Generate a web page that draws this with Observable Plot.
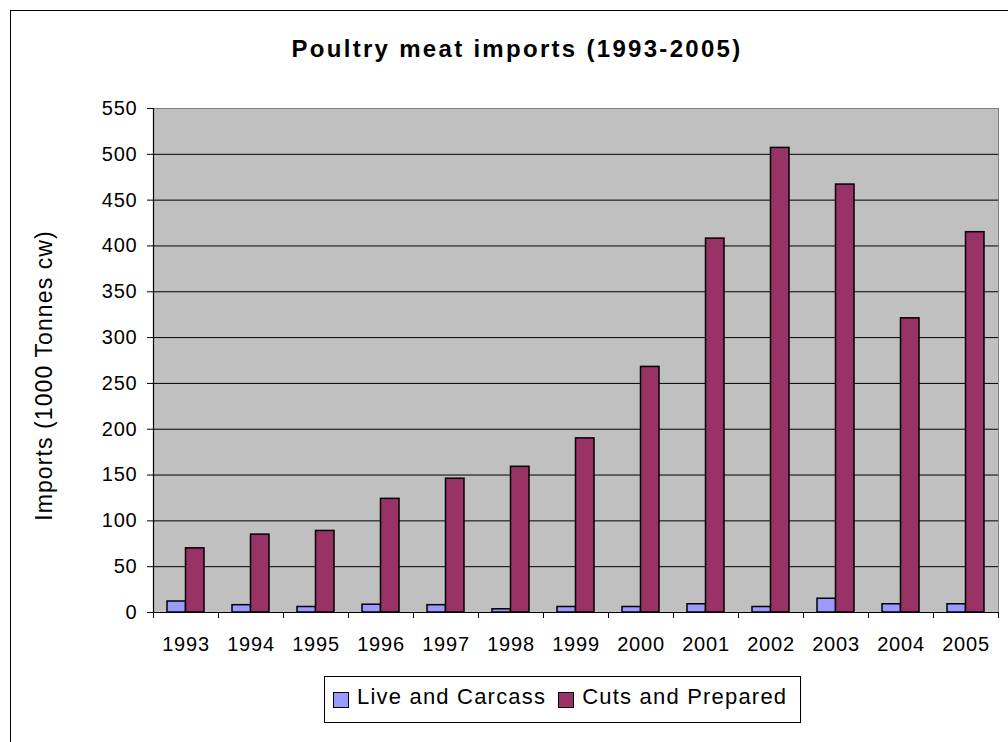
<!DOCTYPE html>
<html>
<head>
<meta charset="utf-8">
<script src="https://cdn.jsdelivr.net/npm/d3@7"></script>
<script src="https://cdn.jsdelivr.net/npm/@observablehq/plot@0.6"></script>
<style>
  body { margin: 0; background: #fff; font-family: "Liberation Sans", Arial, sans-serif; }
  #wrap { position: relative; width: 1008px; height: 742px; overflow: hidden; background: #fff; }
  #border { position: absolute; left: 10px; top: 10px; width: 1100px; height: 800px; border: 1px solid #000; box-sizing: border-box; }
  #title { position: absolute; left: 10px; width: 1014px; top: 33px; text-align: center; font-weight: bold; font-size: 24px; letter-spacing: 2.3px; line-height: 32px; color: #000; }
  #chart { position: absolute; left: 0; top: 80px; }
  #legend { position: absolute; left: 324px; top: 676px; width: 477px; height: 47px; box-sizing: border-box; border: 1px solid #000; background: #fff; display: flex; align-items: center; padding-left: 8px; }
  .item { display: flex; align-items: center; margin-right: 12px; }
  .sw { width: 16px; height: 16px; box-sizing: border-box; border: 1.5px solid #000; margin-right: 8px; position: relative; top: 0px; }
  .lt { font-size: 22px; letter-spacing: 1.2px; position: relative; top: -3px; color: #000; }
  .ylabel { letter-spacing: 1.1px; }
</style>
</head>
<body>
<div id="wrap">
  <div id="border"></div>
  <div id="title">Poultry meat imports (1993-2005)</div>
  <div id="chart"></div>
  <div id="legend"></div>
</div>
<script>
const titleText = "Poultry meat imports (1993-2005)";
const yLabel = "Imports (1000 Tonnes cw)";
const years = ["1993","1994","1995","1996","1997","1998","1999","2000","2001","2002","2003","2004","2005"];
const seriesNames = ["Live and Carcass", "Cuts and Prepared"];
const seriesColors = ["#9999ff", "#993366"];
const liveCarcass = [12, 8, 6, 8.5, 8, 3.5, 6, 6, 9, 6, 15, 9, 9];
const cutsPrepared = [70, 85, 89, 124, 146, 159, 190, 268, 408, 507, 467, 321, 415];
const yTicks = [0, 50, 100, 150, 200, 250, 300, 350, 400, 450, 500, 550];

const liveRows = years.map((y, i) => ({year: y, series: seriesNames[0], value: liveCarcass[i]}));
const cutsRows = years.map((y, i) => ({year: y, series: seriesNames[1], value: cutsPrepared[i]}));

const chart = Plot.plot({
  width: 1008,
  height: 592,
  marginLeft: 153,
  marginRight: 10,
  marginTop: 28,
  marginBottom: 60,
  style: {fontFamily: "'Liberation Sans', Arial, sans-serif", fontSize: "20px", color: "#000", background: "transparent", letterSpacing: "0.8px", overflow: "visible"},
  x: {type: "band", domain: years, paddingInner: 28/65, paddingOuter: 14/65, align: 0.5, label: null},
  y: {domain: [0, 550], label: null},
  marks: [
    Plot.frame({fill: "#c0c0c0", stroke: "#808080"}),
    Plot.ruleY(yTicks.filter(v => v > 0 && v < 550), {stroke: "#000", strokeWidth: 1}),
    Plot.axisY({ticks: yTicks, tickSize: 6, tickPadding: 10, fontSize: 20, label: null, stroke: "#000"}),
    Plot.axisX({tickSize: 6, tickFormat: () => "", dx: -32.5, label: null}),
    Plot.axisX({ticks: [years[years.length - 1]], tickSize: 6, tickFormat: () => "", dx: 32.5, label: null}),
    Plot.axisX({tickSize: 0, tickPadding: 24, fontSize: 20, label: null}),
    Plot.barY(liveRows, {x: "year", y: "value", fill: seriesColors[0], stroke: "#000", strokeWidth: 1.5, insetRight: 18.5}),
    Plot.barY(cutsRows, {x: "year", y: "value", fill: seriesColors[1], stroke: "#000", strokeWidth: 1.5, insetLeft: 18.5}),
    Plot.ruleY([0], {stroke: "#000", strokeWidth: 1.2}),
    Plot.ruleX([years[0]], {dx: -32.5, stroke: "#000", strokeWidth: 1.2}),
    Plot.text([yLabel], {text: d => d, frameAnchor: "left", textAnchor: "middle", rotate: -90, dx: -109, dy: 15, fontSize: 23, className: "ylabel"})
  ]
});
document.getElementById("chart").appendChild(chart);
document.getElementById("title").textContent = titleText;

const legend = document.getElementById("legend");
seriesNames.forEach((name, i) => {
  const item = document.createElement("div");
  item.className = "item";
  const sw = document.createElement("div");
  sw.className = "sw";
  sw.style.background = seriesColors[i];
  const lt = document.createElement("span");
  lt.className = "lt";
  lt.textContent = name;
  item.appendChild(sw);
  item.appendChild(lt);
  legend.appendChild(item);
});
</script>
</body>
</html>
